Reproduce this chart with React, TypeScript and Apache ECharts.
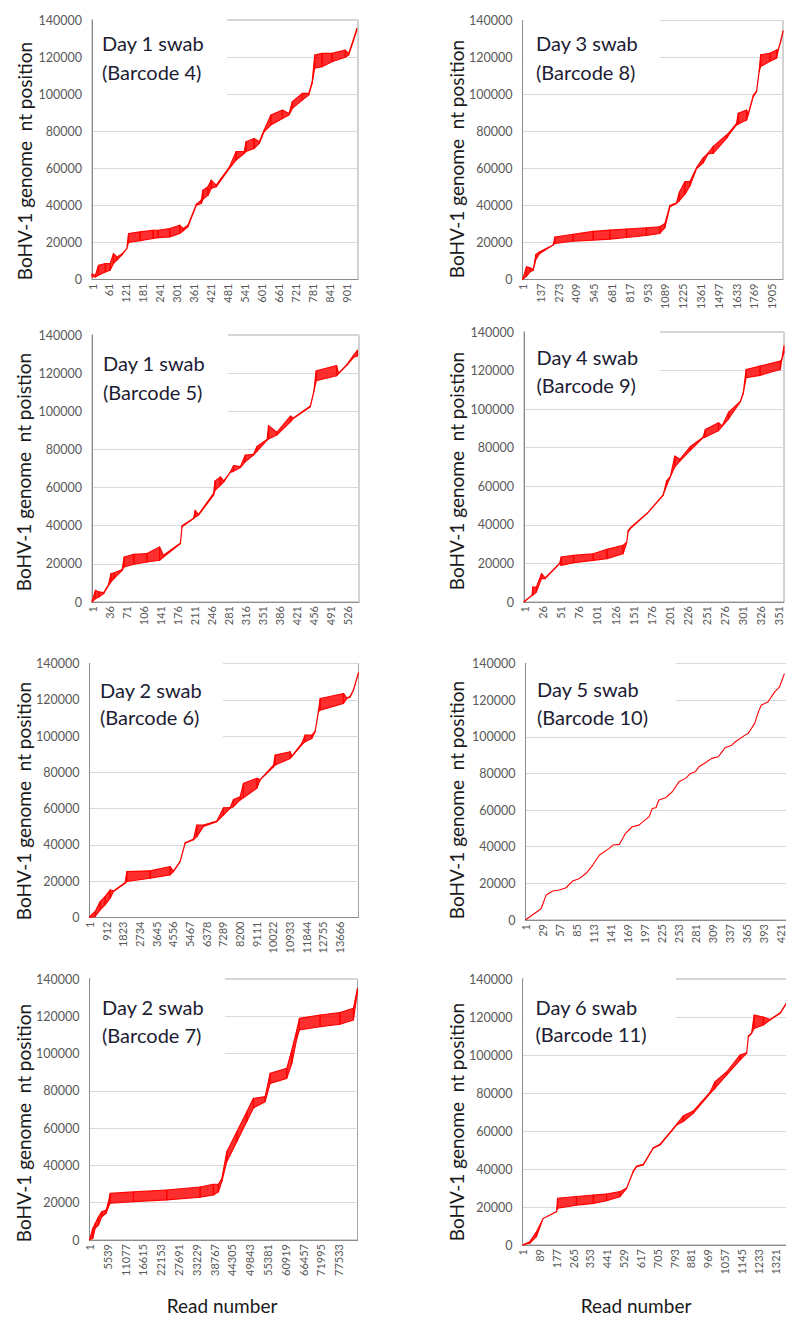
import React, { useEffect, useRef } from "react";
import * as echarts from "echarts";

// ---------- DATA (read index from 0, genome position in nt) ----------
// Each panel: read numbers, lower and upper envelope of mapped positions
const b4Reads = [0, 12, 23, 47, 64, 76, 88, 105, 123, 129, 170, 216, 234, 275, 310, 322, 339, 369, 386, 392, 410, 421, 439, 486, 509, 538, 544, 573, 591, 608, 632, 673, 696, 708, 743, 766, 778, 787, 813, 848, 895, 907, 921, 936];
const b4Low = [1500, 1400, 2300, 4100, 5000, 8600, 10400, 13100, 16700, 20000, 20900, 22100, 22500, 23000, 24800, 26300, 28400, 40100, 41000, 43200, 45500, 49100, 50000, 60000, 64400, 68000, 69000, 70700, 73400, 79700, 83300, 86900, 88700, 92300, 96800, 99500, 105800, 114000, 114800, 117500, 119900, 121100, 127400, 134600];
const b4High = [3000, 2300, 7700, 8600, 8600, 14000, 12200, 13700, 16700, 24800, 25700, 26600, 26600, 27500, 29300, 27500, 29300, 40700, 42800, 48200, 50000, 53600, 50900, 60800, 69000, 69000, 74300, 76100, 74300, 80600, 88700, 91400, 89600, 95900, 100400, 100400, 106700, 121100, 122000, 122000, 123800, 122000, 128300, 135500];

const b8Reads = [0, 31, 56, 82, 102, 132, 234, 247, 387, 540, 667, 795, 947, 1049, 1088, 1126, 1177, 1197, 1240, 1279, 1330, 1380, 1419, 1457, 1559, 1584, 1635, 1648, 1712, 1724, 1763, 1788, 1808, 1819, 1890, 1941, 1954, 1971, 1990];
const b8Low = [0, 1800, 4000, 5000, 10800, 14100, 18600, 19500, 20700, 21300, 21800, 22700, 23800, 24900, 28000, 39300, 41100, 42500, 46000, 50500, 60000, 63000, 68000, 68200, 76300, 79000, 83500, 84000, 86200, 88900, 98800, 101500, 112400, 115100, 118000, 119600, 124100, 128000, 134000];
const b8High = [0, 6900, 6500, 5400, 13500, 15000, 18600, 23000, 24500, 26000, 26700, 27300, 28000, 28500, 30300, 40000, 41500, 47000, 52900, 53000, 60500, 65800, 68500, 72000, 78100, 80000, 84400, 89800, 91600, 89500, 99500, 102000, 113000, 121400, 122300, 124100, 124500, 128600, 134500];

const b5Reads = [0, 7, 14, 24, 34, 39, 45, 62, 66, 86, 113, 139, 147, 182, 185, 209, 212, 219, 250, 253, 264, 271, 284, 291, 305, 315, 332, 339, 360, 363, 380, 408, 414, 449, 456, 461, 503, 507, 524, 538, 546];
const b5Low = [0, 1750, 2600, 4400, 8700, 10500, 12200, 16600, 18400, 19800, 21000, 21900, 23600, 30600, 39400, 43700, 44500, 45500, 56000, 58600, 61200, 63000, 67900, 68500, 70500, 73500, 77000, 79000, 84900, 85500, 87500, 94500, 96200, 102400, 110000, 116000, 118600, 119700, 124100, 128300, 129000];
const b5High = [500, 6100, 5300, 5000, 9200, 14900, 15200, 17000, 23600, 25000, 25400, 28900, 24500, 31000, 40000, 44000, 48100, 46000, 57000, 63500, 65600, 63500, 68000, 71500, 71000, 77000, 77500, 81500, 85200, 92500, 89000, 97500, 96500, 102800, 110500, 121300, 124000, 120000, 124500, 129500, 132100];

const b9Reads = [0, 11, 12, 17, 24, 29, 49, 51, 68, 95, 114, 136, 141, 143, 146, 169, 191, 196, 201, 207, 214, 228, 246, 249, 267, 272, 281, 297, 301, 305, 324, 352, 354, 357];
const b9Low = [0, 3500, 3500, 5200, 12100, 12100, 19900, 19000, 20400, 21600, 22500, 25000, 30700, 36300, 38000, 45800, 55300, 60500, 64900, 70000, 73100, 78500, 85200, 85500, 88800, 91000, 95000, 103700, 108000, 116300, 117500, 120600, 125800, 129200];
const b9High = [300, 3500, 7800, 7800, 14700, 12500, 20200, 23300, 24200, 25000, 27300, 29400, 31000, 37000, 38500, 46000, 55600, 63000, 65200, 75700, 74000, 80500, 85500, 89500, 93000, 91300, 98500, 104000, 108500, 120600, 122300, 124900, 126000, 133000];

const b6Reads = [0, 310, 583, 856, 1130, 1312, 1950, 2040, 3316, 4409, 4591, 4956, 5229, 5685, 5867, 6231, 6960, 7324, 7689, 7871, 8235, 8418, 9146, 9329, 10057, 10149, 10969, 11060, 11606, 11788, 12153, 12335, 12517, 12608, 13884, 14066, 14248, 14430, 14700];
const b6Low = [0, 550, 4200, 7000, 10600, 14300, 18900, 19800, 21600, 23500, 25300, 30800, 40900, 42800, 44600, 50200, 52800, 56500, 60200, 61100, 64800, 66000, 71200, 75800, 83000, 84000, 87700, 88600, 95100, 96900, 98700, 102400, 113400, 114300, 118000, 120700, 121600, 125300, 134500];
const b6High = [500, 3300, 8800, 11600, 15200, 14700, 19300, 25300, 25700, 28100, 25600, 31000, 41200, 43200, 51000, 51000, 53200, 60500, 60600, 65000, 66600, 74000, 76700, 76000, 84000, 89500, 91400, 89000, 96000, 100600, 100600, 102800, 114000, 120700, 123500, 121000, 122000, 125600, 135000];

const b10Reads = [0, 2, 13, 23, 26, 34, 45, 56, 67, 78, 89, 100, 111, 122, 138, 144, 155, 165, 176, 187, 204, 209, 215, 220, 231, 242, 253, 264, 272, 280, 286, 299, 307, 318, 324, 329, 340, 346, 362, 367, 378, 384, 389, 400, 411, 419, 427];
const b10Pos = [0, 550, 3100, 5450, 6400, 13600, 15800, 16400, 17600, 21300, 22700, 25500, 30000, 35500, 39100, 40900, 41300, 47300, 50900, 51800, 56400, 60900, 61300, 65500, 66700, 70000, 75400, 77300, 80000, 80900, 83600, 86400, 88200, 89100, 91800, 94000, 95400, 97300, 100900, 101800, 107300, 113600, 117300, 119100, 124500, 127300, 134500];

const b7Reads = [0, 1037, 1763, 2800, 3837, 5185, 5911, 6430, 13688, 24058, 34428, 38576, 40132, 41169, 42724, 45835, 48946, 51020, 54650, 56205, 61390, 62946, 64501, 65331, 71760, 77982, 82130, 83375];
const b7Low = [0, 900, 6200, 8000, 12500, 14300, 17900, 19700, 20600, 21500, 22900, 24100, 25800, 31300, 42000, 52700, 63500, 70800, 74200, 84000, 86700, 94500, 108000, 112600, 114400, 115700, 118000, 133000];
const b7High = [0, 6300, 8900, 12500, 15200, 16100, 20600, 25000, 25800, 26800, 28400, 29900, 29900, 33000, 47400, 58100, 68800, 76000, 76900, 89400, 92100, 101900, 112600, 118900, 120700, 122000, 124300, 135000];

const b11Reads = [0, 38, 73, 108, 178, 183, 282, 370, 439, 509, 544, 579, 596, 631, 683, 718, 805, 840, 892, 980, 1006, 1067, 1136, 1171, 1180, 1197, 1210, 1258, 1293, 1346, 1363, 1379];
const b11Low = [0, 900, 4400, 14000, 17500, 19300, 21000, 21900, 23300, 25400, 29800, 38600, 41200, 42100, 50900, 52600, 63100, 65000, 69300, 79800, 82500, 89500, 97300, 100900, 109600, 111400, 114000, 115800, 118400, 121900, 124600, 127200];
const b11High = [0, 1750, 7000, 14000, 17600, 24600, 25500, 26300, 26800, 28100, 30000, 39000, 41500, 42500, 51200, 53000, 63500, 68000, 70500, 80500, 86000, 91200, 100000, 101200, 110000, 111700, 121000, 120000, 118700, 122200, 124900, 127500];

// x tick steps (labels are read numbers 1, 1+step, ... up to the last shown label) and x extents
const xSteps = [60, 136, 35, 25, 911, 28, 5538, 88];
const xLastLabels = [901, 1905, 526, 351, 13666, 421, 77533, 1321];
const xMaxes = [940, 1990, 549, 357, 14705, 437, 83400, 1400];
const yTicks = [0, 20000, 40000, 60000, 80000, 100000, 120000, 140000];

const titles1 = ["Day 1 swab", "Day 3 swab", "Day 1 swab", "Day 4 swab", "Day 2 swab", "Day 5 swab", "Day 2 swab", "Day 6 swab"];
const titles2 = ["(Barcode 4)", "(Barcode 8)", "(Barcode 5)", "(Barcode 9)", "(Barcode 6)", "(Barcode 10)", "(Barcode 7)", "(Barcode 11)"];
const yTitles = [
  "BoHV-1 genome  nt position",
  "BoHV-1 genome  nt position",
  "BoHV-1 genome  nt poistion",
  "BoHV-1 genome  nt poistion",
  "BoHV-1 genome  nt position",
  "BoHV-1 genome  nt position",
  "BoHV-1 genome  nt position",
  "BoHV-1 genome  nt position",
];
const xTitle = "Read number";

const panelData = [
  { reads: b4Reads, low: b4Low, high: b4High },
  { reads: b8Reads, low: b8Low, high: b8High },
  { reads: b5Reads, low: b5Low, high: b5High },
  { reads: b9Reads, low: b9Low, high: b9High },
  { reads: b6Reads, low: b6Low, high: b6High },
  { reads: b10Reads, low: b10Pos, high: null as number[] | null },
  { reads: b7Reads, low: b7Low, high: b7High },
  { reads: b11Reads, low: b11Low, high: b11High },
];

// ---------- LAYOUT (pixels) ----------
const plotRects = [
  [92, 20, 266, 259.5],
  [522.5, 20.5, 260.5, 259],
  [92, 335, 267, 267],
  [524, 332, 260, 270],
  [89.5, 663.5, 269, 254],
  [525.5, 663.5, 265, 256.5],
  [89.5, 979, 268, 261],
  [522.5, 979, 268, 266],
];
const boxEnds = [
  [227, 102], [660, 90], [228, 418], [660, 400],
  [223, 740], [676, 732], [225, 1058], [676, 1048],
];
const labelPos = [
  [102, 43, 71.5], [536, 43, 71.5], [103, 363, 391.5], [536.5, 356.5, 385],
  [100, 689.5, 716.5], [537, 689, 716.5], [102, 1006.5, 1035], [535.5, 1006.5, 1033.5],
];
const yTitlePos = [
  [24, 161], [456, 159], [23, 472], [456, 471],
  [23, 801], [456, 800], [23, 1123], [456, 1122],
];
const xTitlePos = [[222, 1305], [636, 1305]];

const RED = "#ff0000";
const FONT = "Lato, 'Liberation Sans', sans-serif";

export default function App() {
  const ref = useRef<HTMLDivElement>(null);

  useEffect(() => {
    document.body.style.margin = "0";
    if (!ref.current) return;
    const chart = echarts.init(ref.current, null, { renderer: "svg" });

    const grids: any[] = [];
    const xAxes: any[] = [];
    const yAxes: any[] = [];
    const series: any[] = [];
    const elements: any[] = [];

    panelData.forEach((p, i) => {
      const [l, t, w, h] = plotRects[i];
      const step = xSteps[i];
      const lastLabel = xLastLabels[i];
      grids.push({
        left: l, top: t, width: w, height: h,
        show: true, borderColor: "#a6a6a6", borderWidth: 1,
        containLabel: false, outerBoundsMode: "none",
      });
      xAxes.push({
        type: "value", gridIndex: i, min: 0, max: xMaxes[i], interval: step,
        axisLine: { show: true, lineStyle: { color: "#8c8c8c", width: 1 } },
        axisTick: { show: false },
        splitLine: { show: false },
        axisLabel: {
          rotate: 90, fontSize: 11, color: "#595959", margin: 4, fontFamily: FONT,
          formatter: (v: number) => {
            const k = v / step;
            const n = Math.round(v) + 1;
            return Math.abs(k - Math.round(k)) < 1e-6 && n <= lastLabel ? String(n) : "";
          },
        },
      });
      yAxes.push({
        type: "value", gridIndex: i, min: yTicks[0], max: yTicks[yTicks.length - 1],
        interval: yTicks[1] - yTicks[0],
        axisLine: { show: true, lineStyle: { color: "#8c8c8c", width: 1 } },
        axisTick: { show: false },
        splitLine: { show: true, lineStyle: { color: "#d9d9d9", width: 1 } },
        axisLabel: {
          fontSize: 12.5, color: "#595959", margin: 10, fontFamily: FONT,
          formatter: (v: number) => String(v),
        },
      });

      if (p.high) {
        const hi = p.high;
        const segs = p.reads.slice(0, -1).map((r, j) => [
          r, p.low[j], hi[j], p.reads[j + 1], p.low[j + 1], hi[j + 1],
        ]);
        series.push({
          type: "custom", name: "reads" + i, coordinateSystem: "cartesian2d",
          xAxisIndex: i, yAxisIndex: i, silent: true,
          encode: { x: [0, 3], y: [1, 2, 4, 5] },
          data: segs,
          renderItem: (_params: any, api: any) => {
            const a = api.coord([api.value(0), api.value(1)]);
            const b = api.coord([api.value(3), api.value(4)]);
            const c = api.coord([api.value(3), api.value(5)]);
            const d = api.coord([api.value(0), api.value(2)]);
            return {
              type: "polygon",
              shape: { points: [a, b, c, d] },
              style: {
                fill: "rgba(255,0,0,0.82)", stroke: RED, lineWidth: 1.1, lineJoin: "round",
              },
            };
          },
        });
      } else {
        series.push({
          type: "line", name: "reads" + i, xAxisIndex: i, yAxisIndex: i,
          symbol: "none", showSymbol: false, silent: true, smooth: false,
          data: p.reads.map((r, j) => [r, p.low[j]]),
          lineStyle: { color: RED, width: 1.1 },
        });
      }

      const [bx, by] = boxEnds[i];
      elements.push({
        type: "rect", z: 100,
        shape: { x: l + 1, y: t - 1.5, width: bx - l - 1, height: by - t + 1.5 },
        style: { fill: "#ffffff" },
        silent: true,
      });
      const [tx, ty1, ty2] = labelPos[i];
      elements.push({
        type: "text", z: 101, x: tx, y: ty1,
        style: { text: titles1[i], fill: "#1c1c33", font: `20px ${FONT}`, textAlign: "left", textVerticalAlign: "middle" },
      });
      elements.push({
        type: "text", z: 101, x: tx, y: ty2,
        style: { text: titles2[i], fill: "#1c1c33", font: `20px ${FONT}`, textAlign: "left", textVerticalAlign: "middle" },
      });
      const [yx, yy] = yTitlePos[i];
      elements.push({
        type: "text", z: 101, x: yx, y: yy, rotation: Math.PI / 2,
        style: { text: yTitles[i], fill: "#1a1a1a", font: `19px ${FONT}`, textAlign: "center", textVerticalAlign: "middle" },
      });
    });

    xTitlePos.forEach(([x, y]) => {
      elements.push({
        type: "text", z: 101, x, y,
        style: { text: xTitle, fill: "#1a1a1a", font: `19px ${FONT}`, textAlign: "center", textVerticalAlign: "middle" },
      });
    });

    chart.setOption({
      animation: false,
      grid: grids,
      xAxis: xAxes,
      yAxis: yAxes,
      series,
      graphic: { elements },
    });

    return () => chart.dispose();
  }, []);

  return <div ref={ref} style={{ width: 786, height: 1317, background: "#ffffff" }} />;
}
